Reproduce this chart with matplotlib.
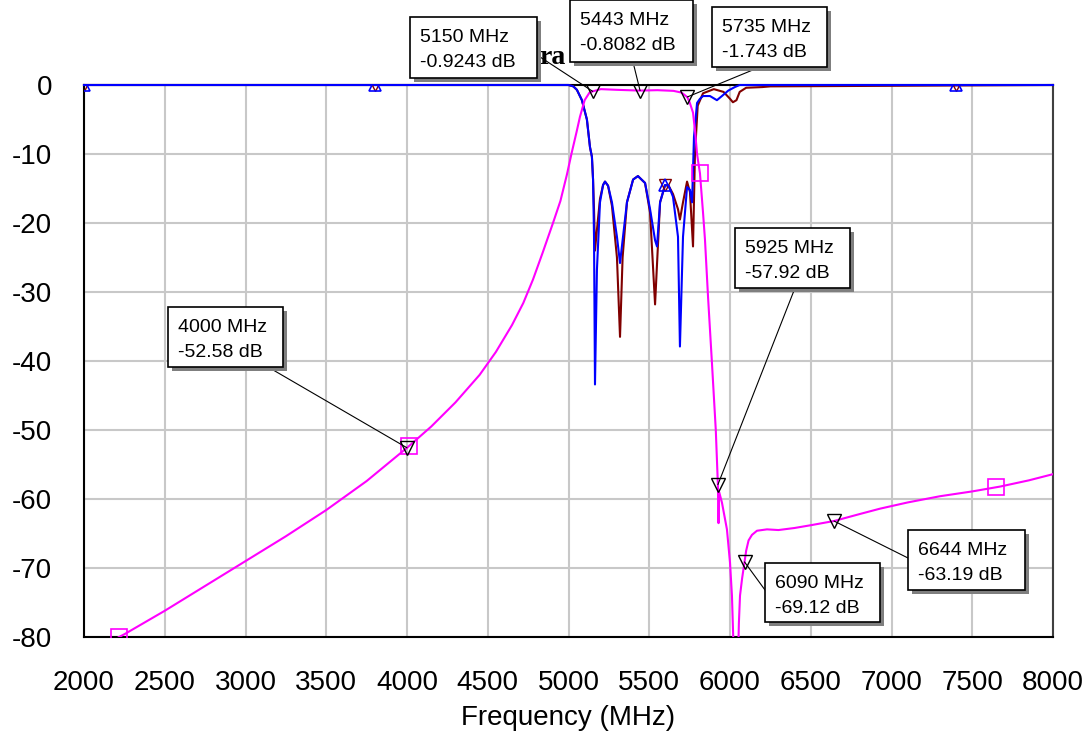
import numpy as np
import matplotlib
matplotlib.use('Agg')
import matplotlib.pyplot as plt
from matplotlib.patches import Rectangle

# ---------------- data ----------------
s21_freq = [2000, 2217, 2250, 2500, 2750, 3000, 3250, 3500, 3750, 4000, 4150, 4300,
            4450, 4550, 4650, 4720, 4780, 4840, 4904, 4950, 4990, 5020, 5050, 5071,
            5100, 5130, 5150, 5200, 5300, 5443, 5550, 5650, 5700, 5735, 5750, 5771,
            5785, 5796, 5814, 5833, 5845, 5864, 5888, 5912, 5925, 5929, 5933, 5950,
            5981, 6000, 6012, 6020, 6030, 6045, 6055, 6062, 6075, 6090, 6100, 6115,
            6136, 6167, 6229, 6300, 6400, 6500, 6644, 6800, 6929, 7100, 7300, 7500,
            7672, 7850, 8000]
s21_db = [-82.9, -80.0, -79.6, -76.2, -72.6, -69.0, -65.4, -61.6, -57.4, -52.58, -49.5, -46.0,
          -42.0, -38.7, -34.8, -31.6, -28.2, -24.3, -20.0, -16.8, -13.0, -9.8, -6.8, -4.6,
          -2.2, -1.1, -0.92, -0.6, -0.7, -0.81, -0.75, -0.85, -1.1, -1.74, -2.5, -4.0,
          -7.0, -10.0, -12.8, -18.5, -22.4, -30.7, -40.2, -50.0, -57.92, -63.5, -59.0, -60.5,
          -64.4, -69.2, -74.0, -80.0, -88.0, -88.0, -78.0, -74.0, -71.5, -69.12, -67.5, -66.0,
          -65.2, -64.6, -64.4, -64.5, -64.2, -63.8, -63.19, -62.2, -61.4, -60.5, -59.6, -58.9,
          -58.2, -57.3, -56.4]

s11_freq = [2000, 5000, 5030, 5052, 5083, 5114, 5133, 5145, 5152, 5158, 5164, 5176,
            5195, 5214, 5226, 5245, 5269, 5300, 5319, 5335, 5362, 5400, 5430, 5474,
            5505, 5536, 5548, 5567, 5598, 5620, 5647, 5678, 5690, 5709, 5734, 5752,
            5765, 5777, 5796, 5814, 5833, 5876, 5919, 5950, 5990, 6030, 6060, 8000]
s11_db = [0, 0, -0.2, -0.7, -2.2, -5.0, -9.0, -10.4, -13.7, -22.0, -43.4, -26.8,
          -17.0, -14.5, -14.0, -14.6, -17.0, -22.0, -25.8, -22.5, -17.0, -13.7, -13.2, -14.2,
          -18.0, -22.5, -23.4, -17.0, -14.5, -14.6, -16.2, -22.0, -37.9, -22.0, -14.8, -15.2,
          -17.0, -7.5, -2.6, -2.0, -1.6, -1.6, -2.2, -1.6, -0.8, -0.3, 0, 0]

s22_freq = [2000, 5000, 5030, 5052, 5083, 5114, 5133, 5145, 5152, 5158, 5164, 5176,
            5195, 5214, 5226, 5245, 5269, 5300, 5319, 5335, 5362, 5400, 5430, 5474,
            5505, 5536, 5548, 5567, 5598, 5620, 5647, 5678, 5690, 5709, 5734, 5752,
            5771, 5783, 5800, 5833, 5900, 5960, 6000, 6018, 6040, 6060, 6100, 6200,
            6250, 8000]
s22_db = [0, 0, -0.2, -0.7, -2.2, -5.0, -9.0, -10.4, -13.7, -18.0, -24.0, -21.0,
          -16.5, -14.5, -14.0, -14.6, -17.5, -25.0, -36.5, -25.0, -17.0, -13.7, -13.2, -14.2,
          -18.5, -31.8, -26.0, -17.0, -14.5, -14.6, -15.8, -18.0, -19.5, -17.0, -14.0, -15.5,
          -23.4, -10.0, -3.0, -1.2, -0.6, -1.0, -2.0, -2.5, -2.2, -1.0, -0.4, -0.3,
          -0.2, 0]

s11_sym_freq = [2000, 3800, 5600, 7400]
s22_sym_freq = [2000, 3800, 5600, 7400]
s21_sym_freq = [2217, 4010, 5814, 7650]

mk_freq = [5150, 5443, 5735, 4000, 5925, 6090, 6644]
mk_db = [-0.9243, -0.8082, -1.743, -52.58, -57.92, -69.12, -63.19]
mk_f_txt = ["5150 MHz", "5443 MHz", "5735 MHz", "4000 MHz", "5925 MHz", "6090 MHz", "6644 MHz"]
mk_db_txt = ["-0.9243 dB", "-0.8082 dB", "-1.743 dB", "-52.58 dB", "-57.92 dB", "-69.12 dB", "-63.19 dB"]

x_ticks = [2000, 2500, 3000, 3500, 4000, 4500, 5000, 5500, 6000, 6500, 7000, 7500, 8000]
y_ticks = [0, -10, -20, -30, -40, -50, -60, -70, -80]

# ---------------- layout ----------------
W, H = 1089, 739
plt.rcParams['font.family'] = ['Liberation Sans', 'DejaVu Sans']
fig = plt.figure(figsize=(W / 100, H / 100), dpi=100)
ax = fig.add_axes([84 / W, 1 - 637 / H, (1053 - 84) / W, (637 - 85) / H])
ax.set_xlim(2000, 8000)
ax.set_ylim(-80, 0)

ax.set_xticks(x_ticks)
ax.set_yticks(y_ticks)
ax.set_xticklabels([str(t) for t in x_ticks])
ax.set_yticklabels([str(t) for t in y_ticks])
ax.tick_params(axis='both', length=0, labelsize=20, colors='black')
ax.tick_params(axis='x', pad=24)
ax.tick_params(axis='y', pad=23)
ax.grid(True, color='#c8c8c8', lw=1.5)
ax.set_axisbelow(True)
ax.set_xlabel('Frequency (MHz)', fontsize=20, labelpad=6)

for s in ['left', 'bottom', 'top']:
    ax.spines[s].set_color('black')
    ax.spines[s].set_linewidth(1.5)
ax.spines['right'].set_color('#404040')
ax.spines['right'].set_linewidth(1.5)

# traces
ax.plot(s22_freq, s22_db, color='#800000', lw=1.5, zorder=3, clip_on=False)
ax.plot(s11_freq, s11_db, color='#0000ff', lw=1.5, zorder=4, clip_on=False)
ax.plot(s21_freq, s21_db, color='#ff00ff', lw=1.5, zorder=5)

# trace symbols
ax.plot(s22_sym_freq, np.interp(s22_sym_freq, s22_freq, s22_db), ls='none', marker='v',
        ms=8, mfc='none', mec='#800000', mew=1.0, zorder=4)
ax.plot(s11_sym_freq, np.interp(s11_sym_freq, s11_freq, s11_db), ls='none', marker='^',
        ms=9, mfc='none', mec='#0000ff', mew=1.2, zorder=5)
ax.plot(s21_sym_freq, np.interp(s21_sym_freq, s21_freq, s21_db), ls='none', marker='s',
        ms=12, mfc='none', mec='#ff00ff', mew=1.2, zorder=6)

# data markers
ax.plot(mk_freq, mk_db, ls='none', marker='v', ms=10, mfc='none', mec='black', mew=1.0, zorder=7)

# visible fragment of the hidden graph title
fig.text(539 / W, 1 - 64 / H, 'ra', family=['Liberation Serif', 'DejaVu Serif'],
         weight='bold', fontsize=20, va='baseline', ha='left', zorder=5)

# marker boxes (image pixels: left, top, right, bottom), leader start
boxes = [(410, 17, 537, 78), (570, 0, 693, 62), (712, 7, 827, 67), (168, 307, 283, 367),
         (735, 228, 850, 288), (765, 563, 880, 622), (908, 530, 1025, 590)]
starts = [(537, 55), (633, 62), (760, 67), (268, 367), (795, 288), (765, 590), (908, 558)]

for i in range(len(mk_freq)):
    sx, sy = starts[i]
    ax.annotate('', xy=(mk_freq[i], mk_db[i]), xycoords='data',
                xytext=(sx, H - sy), textcoords='figure pixels',
                arrowprops=dict(arrowstyle='-', color='black', lw=0.8,
                                shrinkA=0, shrinkB=0),
                annotation_clip=False, zorder=8)
    x0, y0, x1, y1 = boxes[i]
    shadow = Rectangle(((x0 + 4) / W, 1 - (y1 + 4) / H), (x1 - x0) / W, (y1 - y0) / H,
                       transform=fig.transFigure, fc='#7f7f7f', ec='none', zorder=10)
    box = Rectangle((x0 / W, 1 - y1 / H), (x1 - x0) / W, (y1 - y0) / H,
                    transform=fig.transFigure, fc='white', ec='black', lw=1.2, zorder=11)
    fig.patches.append(shadow)
    fig.patches.append(box)
    fig.text((x0 + 10) / W, 1 - (y0 + 25) / H, mk_f_txt[i], fontsize=14,
             va='baseline', ha='left', zorder=12)
    fig.text((x0 + 10) / W, 1 - (y0 + 50) / H, mk_db_txt[i], fontsize=14,
             va='baseline', ha='left', zorder=12)

fig.savefig('out.png', dpi=100)
